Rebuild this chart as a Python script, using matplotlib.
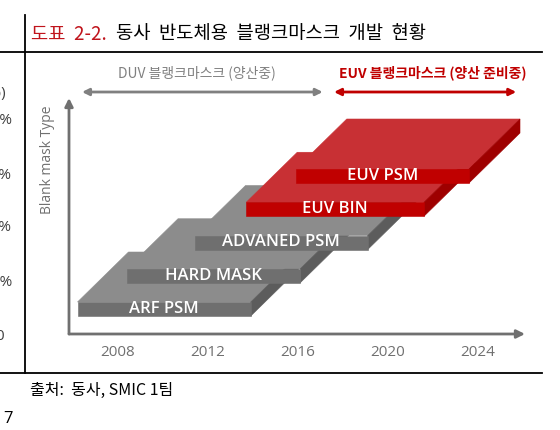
import matplotlib
matplotlib.use('Agg')
import matplotlib.pyplot as plt

plt.rcParams['font.family'] = ['Open Sans', 'Noto Sans CJK KR', 'DejaVu Sans']

# blank mask types, stacked from bottom to top
mask_types = ['ARF PSM', 'HARD MASK', 'ADVANED PSM', 'EUV BIN', 'EUV PSM']
start_year = [2006.2, 2008.4, 2011.4, 2013.7, 2015.9]
end_year = [2013.9, 2016.1, 2019.1, 2021.6, 2023.6]
is_euv = [False, False, False, True, True]
year_ticks = [2008, 2012, 2016, 2020, 2024]

# production periods shown by the arrows on top
duv_period = (2006.4, 2017.1)
euv_period = (2017.6, 2025.7)

title_red = '도표  2-2.'
title_black = '동사  반도체용  블랭크마스크  개발  현황'
duv_label = 'DUV 블랭크마스크 (양산중)'
euv_label = 'EUV 블랭크마스크 (양산 준비중)'
source_text = '출처:  동사, SMIC 1팀'

W, H = 560, 430


def fx(px):
    return px / W


def fy(py):
    return 1 - py / H


fig = plt.figure(figsize=(5.6, 4.3), dpi=100)

# frame lines of the report page
fig.add_artist(plt.Line2D([0, fx(542)], [fy(52), fy(52)], color='black', lw=1.3))
fig.add_artist(plt.Line2D([0, fx(542)], [fy(373), fy(373)], color='black', lw=1.3))
fig.add_artist(plt.Line2D([fx(25), fx(25)], [fy(15), fy(373)], color='black', lw=1.3))

fig.text(fx(31), fy(34), title_red, color='#c0141c', fontsize=13.5,
         family=['Noto Sans CJK KR'], va='center')
fig.text(fx(116), fy(34), title_black, color='black', fontsize=13.5,
         family=['Noto Sans CJK KR'], va='center')

fig.text(fx(197), fy(73), duv_label, color='#808080', fontsize=10,
         family=['Noto Sans CJK KR'], ha='center', va='center')
fig.text(fx(433), fy(73), euv_label, color='#c00000', fontsize=10,
         family=['Noto Sans CJK KR'], ha='center', va='center', weight='bold')

fig.text(fx(30), fy(390), source_text, color='black', fontsize=11.5,
         family=['Noto Sans CJK KR'], va='center')
fig.text(fx(3), fy(419), '7', color='black', fontsize=12, va='center')

# remains of the neighbouring chart, cut by the page edge
for px, py, s in [(6, 93, '(%)'), (12, 120, '20%'), (12, 175, '15%'),
                  (12, 228, '10%'), (12, 282, '5%'), (4, 337, '0')]:
    fig.text(fx(px), fy(py), s, color='#404040', fontsize=11,
             ha='right', va='center')

# main chart
ax_l, ax_r, ax_t, ax_b = 69, 525, 98, 334
ax = fig.add_axes([fx(ax_l), fy(ax_b), fx(ax_r - ax_l), (ax_b - ax_t) / H])
px_per_year = 22.5
px_per_level = 33.25
ax.set_xlim(2008 + (ax_l - 118) / px_per_year, 2008 + (ax_r - 118) / px_per_year)
ax.set_ylim(0, (ax_b - ax_t) / px_per_level)

base = 18 / px_per_level
thick = 14 / px_per_level
depth_x = 51 / px_per_year
depth_y = 50 / px_per_level

gray = {'top': '#8c8c8c', 'front': '#6f6f6f', 'side': '#5c5c5c'}
red = {'top': '#c83034', 'front': '#c00000', 'side': '#9e0000'}

for i, (name, x0, x1, euv) in enumerate(zip(mask_types, start_year, end_year, is_euv)):
    c = red if euv else gray
    b = base + i
    t = b + thick
    z = 2 + i
    ax.fill([x0, x1, x1 + depth_x, x0 + depth_x], [t, t, t + depth_y, t + depth_y],
            color=c['top'], lw=0.4, ec=c['top'], zorder=z)
    ax.fill([x1, x1 + depth_x, x1 + depth_x, x1], [b, b + depth_y, t + depth_y, t],
            color=c['side'], lw=0.4, ec=c['side'], zorder=z)
    ax.fill([x0, x1, x1, x0], [b, b, t, t],
            color=c['front'], lw=0.4, ec=c['front'], zorder=z)
    ax.text((x0 + x1) / 2, (b + t) / 2, name, color='white', fontsize=12,
            weight='semibold', ha='center', va='center', zorder=z)

for s in ax.spines.values():
    s.set_visible(False)
ax.set_yticks([])
ax.set_xticks(year_ticks)
ax.tick_params(axis='x', length=0, pad=8, labelsize=11, labelcolor='#707070')
ax.patch.set_alpha(0)

axis_color = '#707070'
ax.annotate('', xy=(1, 0), xytext=(0, 0), xycoords='axes fraction',
            arrowprops=dict(arrowstyle='-|>', color=axis_color, lw=2,
                            mutation_scale=12, shrinkA=0, shrinkB=0))
ax.annotate('', xy=(0, 1), xytext=(0, 0), xycoords='axes fraction',
            arrowprops=dict(arrowstyle='-|>', color=axis_color, lw=2,
                            mutation_scale=12, shrinkA=0, shrinkB=0))
ax.text(-0.048, 0.737, 'Blank mask Type', transform=ax.transAxes, rotation=90,
        color='#707070', fontsize=10, ha='center', va='center')

arrow_y = (ax_b - 92) / px_per_level
ax.annotate('', xy=(duv_period[0], arrow_y), xytext=(duv_period[1], arrow_y),
            annotation_clip=False,
            arrowprops=dict(arrowstyle='<|-|>', color='#808080', lw=2,
                            mutation_scale=10, shrinkA=0, shrinkB=0))
ax.annotate('', xy=(euv_period[0], arrow_y), xytext=(euv_period[1], arrow_y),
            annotation_clip=False,
            arrowprops=dict(arrowstyle='<|-|>', color='#c00000', lw=2,
                            mutation_scale=10, shrinkA=0, shrinkB=0))

fig.savefig('out.png', dpi=100)
